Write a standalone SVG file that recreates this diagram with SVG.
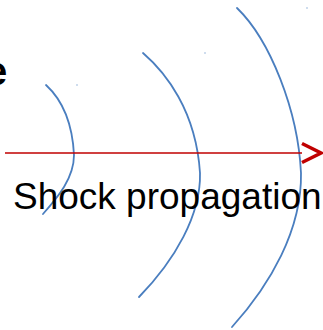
<svg xmlns="http://www.w3.org/2000/svg" width="323" height="330" viewBox="0 0 323 330">
<style>
.wave{fill:none;stroke:#4a7ebf;stroke-width:1.8;stroke-linecap:round}
.dot{fill:#4a7ebf;opacity:0.6}
.arrow{fill:none;stroke:#c00000}
.label{font-family:"Liberation Sans",Arial,sans-serif;fill:#000}
</style>
<rect width="323" height="330" fill="#fff"/>
<text id="title" class="label" x="-15" y="85" font-size="40" font-weight="bold">e</text>
<g id="wave1">
<path class="wave" d="M46,85 C58,96 72,115 74,155 C74,178 58,197 43,214"/>
<circle class="dot" cx="77" cy="85" r="0.8"/>
</g>
<g id="wave2">
<path class="wave" d="M143,53 C165,72 196,110 200,173 C201,215 175,260 139,297"/>
<circle class="dot" cx="205" cy="53" r="0.8"/>
</g>
<g id="wave3">
<path class="wave" d="M237,8 C270,40 298,110 301,173 C302,230 270,285 232,327"/>
<circle class="dot" cx="307" cy="8" r="0.8"/>
</g>
<g id="connectors">
<line class="arrow" x1="5" y1="153" x2="302" y2="153" stroke-width="1.6"/>
<polyline class="arrow" points="302,143.5 321,153 302,162.5" stroke-width="3.5"/>
</g>
<text id="label" class="label" x="13" y="209" font-size="37">Shock propagation</text>
</svg>
